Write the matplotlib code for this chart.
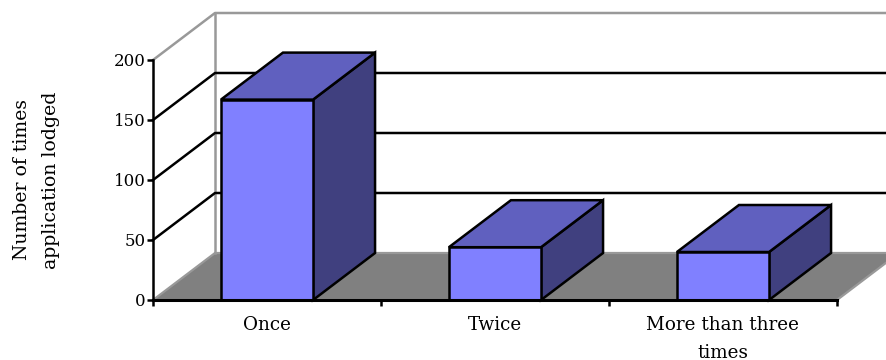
import matplotlib
matplotlib.use("Agg")
import matplotlib.pyplot as plt
from matplotlib.patches import Polygon

categories = ["Once", "Twice", "More than three\ntimes"]
values = [167, 44, 40]
y_ticks = [0, 50, 100, 150, 200]
y_label = "Number of times\napplication lodged"

# Oblique projection offsets for the depth axis, in data units
DEPTH_X = 62 / 228
DEPTH_Y = 47 / 1.2
BAR_WIDTH = 0.404

FRONT = "#8080FF"
TOP = "#6060BF"
SIDE = "#40407F"
FLOOR = "#808080"
WALL_EDGE = "#999999"
LW = 1.8

plt.rcParams["font.family"] = "DejaVu Serif"

fig = plt.figure(figsize=(8.87, 3.6), dpi=100)
ax = fig.add_axes([153 / 887, 1 - 300 / 360, (837 - 153) / 887, 240 / 360])
n = len(categories)
ax.set_xlim(0, n)
ax.set_ylim(0, 200)
ax.patch.set_visible(False)


def shape(points, **kw):
    ax.add_patch(Polygon(points, closed=True, clip_on=False, **kw))


# Floor and walls
shape([(0, 0), (n, 0), (n + DEPTH_X, DEPTH_Y), (DEPTH_X, DEPTH_Y)],
      facecolor=FLOOR, edgecolor=WALL_EDGE, linewidth=1.6, zorder=1)
ax.plot([DEPTH_X, DEPTH_X], [DEPTH_Y, 200 + DEPTH_Y], color=WALL_EDGE,
        lw=LW, clip_on=False, zorder=1)
ax.plot([0, DEPTH_X, n + DEPTH_X], [200, 200 + DEPTH_Y, 200 + DEPTH_Y],
        color=WALL_EDGE, lw=LW, clip_on=False, zorder=1)

# Gridlines run along the side wall, then across the back wall
for t in y_ticks[1:-1]:
    ax.plot([0, DEPTH_X, n + DEPTH_X], [t, t + DEPTH_Y, t + DEPTH_Y],
            color="black", lw=LW, clip_on=False, zorder=2)

# Bars, drawn as three visible faces
for i, v in enumerate(values):
    x0 = i + 0.5 - BAR_WIDTH / 2
    x1 = x0 + BAR_WIDTH
    style = dict(edgecolor="black", linewidth=LW, joinstyle="miter", zorder=3)
    shape([(x1, 0), (x1 + DEPTH_X, DEPTH_Y), (x1 + DEPTH_X, v + DEPTH_Y), (x1, v)],
          facecolor=SIDE, **style)
    shape([(x0, v), (x1, v), (x1 + DEPTH_X, v + DEPTH_Y), (x0 + DEPTH_X, v + DEPTH_Y)],
          facecolor=TOP, **style)
    shape([(x0, 0), (x1, 0), (x1, v), (x0, v)], facecolor=FRONT, **style)

for side in ("top", "right"):
    ax.spines[side].set_visible(False)
ax.spines["left"].set_linewidth(LW)
ax.spines["bottom"].set_linewidth(2.2)
ax.spines["left"].set_zorder(5)
ax.spines["bottom"].set_zorder(5)

ax.set_yticks(y_ticks)
ax.tick_params(axis="y", length=4, width=LW, labelsize=12, pad=1.5)
ax.set_xticks(range(n + 1))
ax.set_xticklabels([])
ax.tick_params(axis="x", which="major", length=4.5, width=LW)
ax.set_xticks([i + 0.5 for i in range(n)], minor=True)
ax.set_xticklabels(categories, minor=True, fontsize=13.2, linespacing=1.75)
ax.tick_params(axis="x", which="minor", length=0, pad=11.5)

ax.text(-0.1705, 0.5, y_label, transform=ax.transAxes,
        rotation=90, ha="center", va="center", fontsize=13.6, linespacing=1.82,
        multialignment="center")

fig.savefig("out.png", dpi=100)
